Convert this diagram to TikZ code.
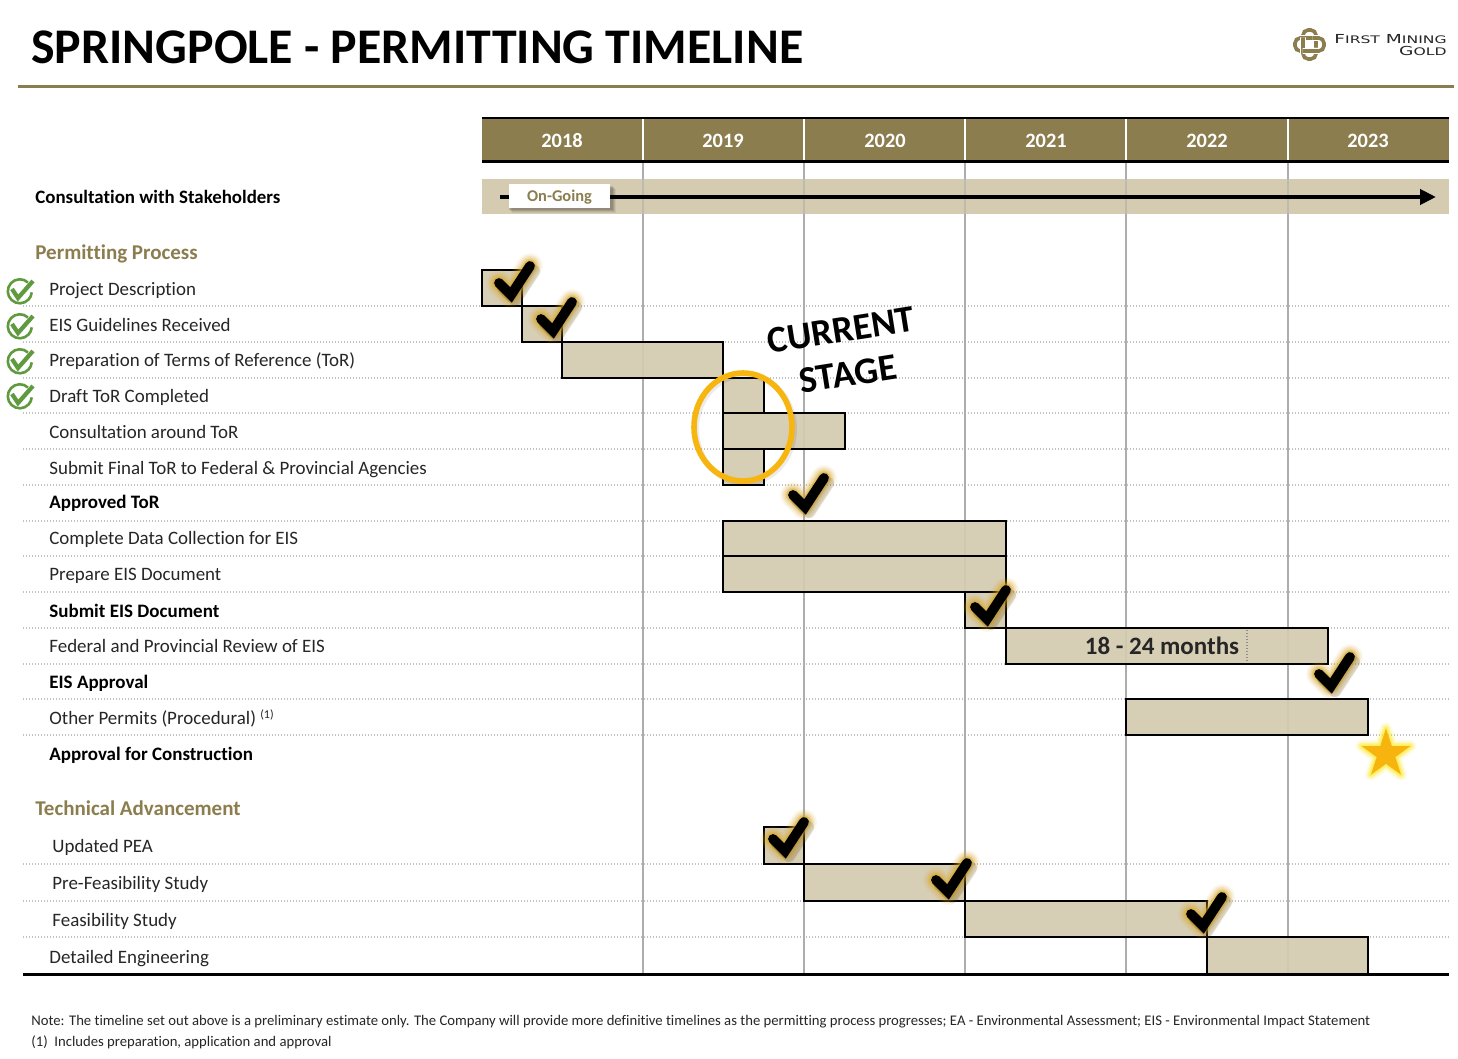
\documentclass[tikz,border=0pt]{standalone}
\usepackage{fontspec}
\setmainfont[Ligatures=NoCommon]{Carlito}
\newfontfamily\logofont{DejaVu Sans}
\usetikzlibrary{shapes.geometric,arrows.meta}
\definecolor{gold}{HTML}{8B7D4E}
\definecolor{tan}{HTML}{D4CBB1}
\definecolor{amber}{HTML}{F7B60F}
\definecolor{okgreen}{HTML}{5F9A3E}
\tikzset{
  x=0.5pt,y=-0.5pt,
  rowlabel/.style={anchor=base west,inner sep=0pt,font=\fontsize{9.47}{11}\selectfont,text=black!85},
  boldlabel/.style={rowlabel,font=\fontsize{9.5}{11}\selectfont\bfseries,text=black},
  section/.style={anchor=base west,inner sep=0pt,font=\fontsize{10.5}{12}\selectfont\bfseries,text=gold},
  yearlabel/.style={inner sep=0pt,text=white,font=\fontsize{10.2}{12}\selectfont\bfseries},
  rowline/.style={draw=black!24,line width=0.7pt,dash pattern=on 0.7pt off 0.8pt},
  gridline/.style={draw=black!32,line width=0.75pt},
  barbox/.style={fill=tan,fill opacity=.93,draw=black,line width=1.25pt},
  notetext/.style={anchor=base west,inner sep=0pt,font=\fontsize{7.35}{9}\selectfont,text=black!85},
  logostrand/.style={draw=gold,line width=1.8pt,rounded corners=2.6pt},
  logohalo/.style={draw=white,line width=2.9pt,rounded corners=2.6pt},
  chk/.pic={
    \foreach \w/\o in {13/.07,11.5/.1,10/.14,8.5/.2,7/.3,6/.35}{
      \draw[amber!70!gold,opacity=\o,line width=\w pt,line cap=round,line join=round] (-14,1)--(-2,13)--(17,-16);}
    \draw[black,opacity=.12,line width=6pt,line cap=round,line join=round] (-10,6)--(2,18)--(21,-11);
    \draw[black,line width=4.9pt,line cap=round,line join=miter] (-14,1)--(-2,13)--(17,-16);
  },
  okmark/.pic={
    \draw[okgreen,line width=1.3pt] (8,-8.5) arc[start angle=-47,end angle=-360+5,radius=12];
    \draw[okgreen,line width=2.1pt,line join=miter] (-8,-2)--(-2,7)--(13,-10);
  },
  goalstar/.style={star,star points=5,star point ratio=2.6,minimum size=25.5pt,inner sep=0pt,line join=round},
}
\newcommand{\barrect}[5][]{\draw[barbox,#1] (#2,#3) rectangle (#4,#5);}
\newcommand{\logotext}[2]{\scalebox{1.5}[1]{\logofont\fontsize{6.2}{8}\selectfont #1\fontsize{5.2}{8}\selectfont #2}}
\begin{document}
\begin{tikzpicture}
\useasboundingbox (0,0) rectangle (1458,1059);
\fill[white] (0,0) rectangle (1458,1059);

% title
\node[anchor=base west,inner sep=0pt,font=\fontsize{24.93}{28}\selectfont\bfseries] (title) at (31,64) {SPRINGPOLE - PERMITTING TIMELINE};
\fill[gold] (18,85.5) rectangle (1454,88);

% logo
\begin{scope}[shift={(1309.5,44.5)}]
  \foreach \a in {0,90,180,270}{
    \draw[logohalo,rotate=\a] (-6.5,-3) -- (-6.5,-14.5) -- (6.5,-14.5) -- (6.5,7);
    \draw[logostrand,rotate=\a] (-6.5,-3) -- (-6.5,-14.5) -- (6.5,-14.5) -- (6.5,7);
  }
\end{scope}
\node[anchor=base east,inner sep=0pt,text=black!85] (logo1) at (1447,43.5) {\logotext{F}{IRST}\logotext{\ M}{INING}};
\node[anchor=base east,inner sep=0pt,text=black!85] (logo2) at (1447,56) {\logotext{G}{OLD}};

% row rules
\foreach \y in {306,342,378,413,449,485,521,556,592,628,664,699,735,864,901,937}
  \draw[rowline] (23,\y) -- (1449,\y);

% grid
\foreach \x in {643,804,965,1126,1288}
  \draw[gridline] (\x,162) -- (\x,974);

% header
\fill[gold] (482,118) rectangle (1449,162);
\draw[black,line width=1.4pt] (482,118) -- (1449,118);
\draw[black,line width=1.4pt] (482,161.5) -- (1449,161.5);
\foreach \x in {643,804,965,1126,1288}
  \draw[white,line width=1.1pt] (\x,119) -- (\x,160);
\foreach \x/\t in {562/2018,723/2019,885/2020,1046/2021,1207/2022,1368/2023}
  \node[yearlabel] (y\t) at (\x,141) {\t};

% consultation band
\fill[tan] (482,179) rectangle (1449,214);
\foreach \x in {643,804,965,1126,1288}
  \draw[gridline,opacity=.55] (\x,179) -- (\x,214);
\coordinate (ongoingstart) at (500,197);
\coordinate (ongoingend) at (1436,197);
\draw[black,line width=2.3pt,-{Triangle[length=8pt,width=7.5pt]}] (ongoingstart) -- (ongoingend);
\foreach \o/\d in {.06/6,.08/5,.1/4,.12/3}
  \fill[black,opacity=\o] (509+\d-3,183+\d) rectangle (610+\d,207+\d);
\node[fill=white,inner sep=0pt,minimum width=50.5pt,minimum height=12pt] (ongoing) at (559.5,196) {};
\node[inner sep=0pt,text=gold,font=\fontsize{8.2}{10}\selectfont\bfseries] (ongoingtext) at (559.5,197) {On-Going};

% labels
\node[anchor=base west,inner sep=0pt,font=\fontsize{9.45}{11}\selectfont\bfseries] (consult) at (35,204) {Consultation with Stakeholders};
\node[section] (permit) at (35,260) {Permitting Process};
\node[rowlabel] (r1) at (49,296) {Project Description};
\node[rowlabel] (r2) at (49,332) {EIS Guidelines Received};
\node[rowlabel] (r3) at (49,367) {Preparation of Terms of Reference (ToR)};
\node[rowlabel] (r4) at (49,403) {Draft ToR Completed};
\node[rowlabel] (r5) at (49,438) {Consultation around ToR};
\node[rowlabel] (r6) at (49,474) {Submit Final ToR to Federal \& Provincial Agencies};
\node[boldlabel] (r7) at (49,509) {Approved ToR};
\node[rowlabel] (r8) at (49,545) {Complete Data Collection for EIS};
\node[rowlabel] (r9) at (49,581) {Prepare EIS Document};
\node[boldlabel] (r10) at (49,617) {Submit EIS Document};
\node[rowlabel] (r11) at (49,652) {Federal and Provincial Review of EIS};
\node[boldlabel] (r12) at (49,688) {EIS Approval};
\node[rowlabel] (r13) at (49,724) {Other Permits (Procedural) \raisebox{3pt}{\fontsize{6}{7}\selectfont (1)}};
\node[boldlabel] (r14) at (49,760) {Approval for Construction};
\node[section] (tech) at (35,815) {Technical Advancement};
\node[rowlabel] (t1) at (52,852) {Updated PEA};
\node[rowlabel] (t2) at (52,889) {Pre-Feasibility Study};
\node[rowlabel] (t3) at (52,926) {Feasibility Study};
\node[rowlabel] (t4) at (49,963) {Detailed Engineering};

% green ticks
\foreach \y in {291,326,361,396} \pic at (20,\y) {okmark};

% bars
\barrect{482}{270}{522}{306}
\barrect{522}{306}{562}{342}
\barrect{562}{342}{723}{378}
\barrect{723}{378}{764}{413}
\barrect{723}{449}{764}{485}
\barrect{723}{413}{845}{449}
\barrect{723}{521}{1006}{556}
\barrect{723}{556}{1006}{592}
\barrect{965}{592}{1006}{628}
\barrect{1006}{628}{1328}{664}
\draw[rowline,draw=black!45] (1247,630) -- (1247,662);
\barrect{1126}{699}{1368}{735}
\barrect{764}{827}{804}{864}
\barrect{804}{864}{965}{901}
\barrect{965}{901}{1207}{937}
\barrect{1207}{937}{1368}{974}
\draw[black,line width=1.5pt] (23,974) -- (1449,974);

\node[inner sep=0pt,font=\fontsize{12.5}{14}\selectfont\bfseries,text=black!85] (months) at (1162,646) {18 - 24 months};

% checks
\foreach \x/\y in {513/282,555/318,807/494,989/606,1333/673,787/838,950/879,1205/913}
  \pic at (\x,\y) {chk};

% current stage ring
\draw[black,opacity=.08,line width=3pt] (745,429) ellipse [x radius=49,y radius=54];
\draw[amber,line width=2.8pt] (743,427) ellipse [x radius=49,y radius=54];
\node[inner sep=0pt,rotate=9,font=\fontsize{18.8}{22}\selectfont\bfseries] (current) at (841,330) {CURRENT};
\node[inner sep=0pt,rotate=9,font=\fontsize{18.8}{22}\selectfont\bfseries] (stage) at (848,374) {STAGE};

% star
\foreach \w/\o in {6/.1,4.5/.15,3/.25,1.5/.4}
  \node[goalstar,draw=yellow!90!orange,line width=\w pt,opacity=\o] at (1386,754) {};
\node[goalstar,fill=amber!95!orange] (goal) at (1386,754) {};

% notes
\node[notetext] (note1) at (31,1025) {Note: The timeline set out above is a preliminary estimate only. The Company will provide more definitive timelines as the permitting process progresses; EA - Environmental Assessment; EIS - Environmental Impact Statement};
\node[notetext] (note2) at (31,1046) {(1)\ \ Includes preparation, application and approval};
\end{tikzpicture}
\end{document}
